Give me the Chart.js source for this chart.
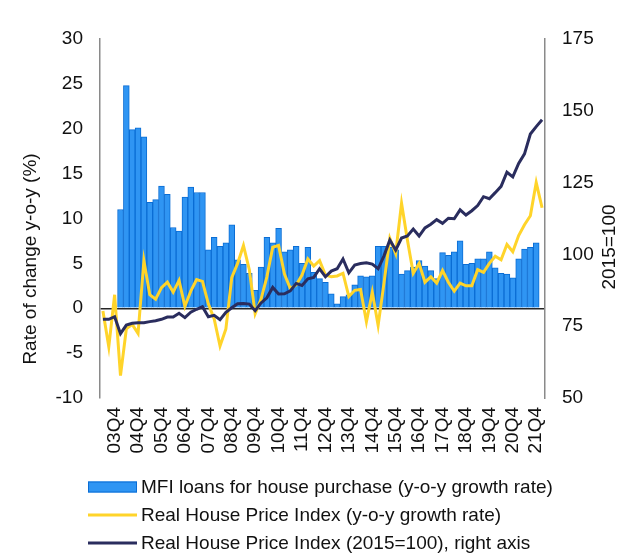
<!DOCTYPE html>
<html>
<head>
<meta charset="utf-8">
<script src="https://cdn.jsdelivr.net/npm/chart.js@4.4.1/dist/chart.umd.min.js"></script>
<style>
  html, body { margin: 0; padding: 0; background: #fff; }
  #wrap { width: 632px; height: 555px; position: relative; }
</style>
</head>
<body>
<div id="wrap"><canvas id="c" width="632" height="555"></canvas></div>
<script>
const categories = [
  '03Q2','03Q3','03Q4','04Q1','04Q2','04Q3','04Q4','05Q1','05Q2','05Q3','05Q4',
  '06Q1','06Q2','06Q3','06Q4','07Q1','07Q2','07Q3','07Q4','08Q1','08Q2','08Q3','08Q4',
  '09Q1','09Q2','09Q3','09Q4','10Q1','10Q2','10Q3','10Q4','11Q1','11Q2','11Q3','11Q4',
  '12Q1','12Q2','12Q3','12Q4','13Q1','13Q2','13Q3','13Q4','14Q1','14Q2','14Q3','14Q4',
  '15Q1','15Q2','15Q3','15Q4','16Q1','16Q2','16Q3','16Q4','17Q1','17Q2','17Q3','17Q4',
  '18Q1','18Q2','18Q3','18Q4','19Q1','19Q2','19Q3','19Q4','20Q1','20Q2','20Q3','20Q4',
  '21Q1','21Q2','21Q3','21Q4','22Q1'
];

const mfiLoans = [
  null, null, null,
  11.0, 24.8, 19.9, 20.1, 19.1, 11.8, 12.1, 13.6, 12.7, 9.0,
  8.6, 12.4, 13.5, 12.9, 12.9, 6.5, 7.9, 6.9, 7.3, 9.3,
  5.4, 4.9, 3.9, 2.0, 4.6, 7.9, 7.3, 8.9, 6.3, 6.5,
  6.9, 5.0, 6.8, 4.0, 3.3, 2.9, 1.6, 0.5, 1.3, 1.5,
  2.6, 3.6, 3.5, 3.6, 6.9, 6.9, 6.8, 6.5, 3.8, 4.2,
  4.6, 5.3, 4.7, 4.2, 3.3, 6.2, 5.9, 6.3, 7.5, 4.9,
  5.0, 5.5, 5.5, 6.3, 4.5, 3.9, 3.8, 3.4, 5.5, 6.6,
  6.8, 7.3,
  null
];

const realHpiGrowth = [
  -0.3, -4.3, 1.5, -7.5, -2.3, -1.8, -2.8, 5.3, 1.5, 1.0,
  2.3, 2.9, 1.8, 3.1, 0.2, 1.9, 3.2, 3.0, 0.5, -1.2,
  -4.2, -2.3, 3.4, 5.0, 7.0, 4.3, -0.6, 1.0, 3.5, 6.8,
  7.0, 3.8, 2.2, 2.6, 3.7, 5.5, 4.7, 5.3, 3.7, 3.5,
  3.6, 3.9, 1.3, 2.0, 2.1, -1.5, 1.8, -1.9, 2.8, 7.8,
  6.1, 11.7, 7.6, 3.9, 5.0, 2.9, 3.5, 2.8, 4.2, 2.9,
  1.9, 2.8, 2.5, 2.5, 4.3, 4.0, 5.0, 5.8, 5.4, 7.1,
  6.3, 8.1, 9.3, 10.3, 14.0, 11.2
];

const realHpiIndex = [
  77.4, 77.4, 78.3, 72.4, 75.4, 76.0, 76.2, 76.2, 76.6, 76.9,
  77.4, 78.2, 78.2, 79.5, 78.0, 79.9, 80.9, 81.8, 78.3, 78.8,
  77.3, 79.8, 81.4, 82.8, 82.9, 82.7, 80.4, 83.1, 84.9, 88.5,
  86.2, 86.3, 87.3, 89.9, 89.2, 91.5, 92.0, 95.0, 92.2, 94.2,
  95.0, 98.4, 93.6, 96.3, 96.8, 97.1, 96.6, 95.0, 99.5, 105.0,
  101.5, 105.7, 106.4, 108.8, 106.4, 109.2, 110.5, 112.1, 110.8, 112.6,
  112.4, 115.5, 113.7, 115.2, 117.0, 120.1, 119.4, 121.5, 123.7, 128.6,
  127.0, 131.7, 135.0, 141.9, 144.5, 146.9
];

const seriesNames = [
  'MFI loans for house purchase (y-o-y growth rate)',
  'Real House Price Index (y-o-y growth rate)',
  'Real House Price Index (2015=100), right axis'
];
const leftTitle = 'Rate of change y-o-y (%)';
const rightTitle = '2015=100';

const FONT = "'Liberation Sans', Arial, sans-serif";
const FS = 19;
const TXT = '#111111';
const BAR_FILL = '#2F95F3';
const BAR_EDGE = '#0B6DD4';
const YELLOW = '#FFD42A';
const NAVY = '#2A2D5E';

const customDecor = {
  id: 'customDecor',
  afterDraw(chart) {
    const ctx = chart.ctx;
    ctx.save();
    ctx.fillStyle = TXT;
    ctx.font = FS + 'px ' + FONT;
    ctx.textBaseline = 'middle';
    ctx.textAlign = 'center';
    ctx.save();
    ctx.translate(31, 259);
    ctx.rotate(-Math.PI / 2);
    ctx.fillText(leftTitle, 0, 0);
    ctx.restore();
    ctx.save();
    ctx.translate(610, 247);
    ctx.rotate(-Math.PI / 2);
    ctx.fillText(rightTitle, 0, 0);
    ctx.restore();
    const ds = chart.data.datasets;
    const rows = [487, 515, 543];
    const x0 = 88, w = 49, tx = 141;
    ds.forEach((d, i) => {
      const y = rows[i];
      if (d.type === 'bar') {
        ctx.fillStyle = d.backgroundColor;
        ctx.fillRect(x0, y - 5.5, w, 11);
        ctx.strokeStyle = d.borderColor;
        ctx.lineWidth = 1;
        ctx.strokeRect(x0 + 0.5, y - 5, w - 1, 10);
      } else {
        ctx.strokeStyle = d.borderColor;
        ctx.lineWidth = 3;
        ctx.beginPath();
        ctx.moveTo(x0, y);
        ctx.lineTo(x0 + w, y);
        ctx.stroke();
      }
      ctx.fillStyle = TXT;
      ctx.textAlign = 'left';
      ctx.fillText(d.label, tx, y + 1);
    });
    ctx.restore();
  }
};

new Chart(document.getElementById('c'), {
  data: {
    labels: categories,
    datasets: [
      {
        type: 'bar',
        label: seriesNames[0],
        data: mfiLoans,
        backgroundColor: BAR_FILL,
        borderColor: BAR_EDGE,
        borderWidth: 1,
        barPercentage: 1.0,
        categoryPercentage: 1.0,
        yAxisID: 'y',
        order: 3
      },
      {
        type: 'line',
        label: seriesNames[1],
        data: realHpiGrowth,
        borderColor: YELLOW,
        backgroundColor: YELLOW,
        borderWidth: 3,
        pointRadius: 0,
        tension: 0,
        fill: false,
        yAxisID: 'y',
        order: 2
      },
      {
        type: 'line',
        label: seriesNames[2],
        data: realHpiIndex,
        borderColor: NAVY,
        backgroundColor: NAVY,
        borderWidth: 3,
        pointRadius: 0,
        tension: 0,
        fill: false,
        yAxisID: 'y2',
        order: 1
      }
    ]
  },
  options: {
    responsive: false,
    animation: false,
    devicePixelRatio: 1,
    layout: { padding: { top: 39, left: 0, right: 0, bottom: 0 } },
    plugins: {
      legend: { display: false },
      tooltip: { enabled: false }
    },
    scales: {
      x: {
        type: 'category',
        offset: true,
        grid: { display: false, drawTicks: false },
        border: { display: false },
        ticks: {
          autoSkip: false,
          minRotation: 90,
          maxRotation: 90,
          padding: 9,
          color: TXT,
          font: { family: FONT, size: FS },
          callback: function(val, idx) {
            const lab = categories[idx];
            return lab.endsWith('Q4') ? lab : '';
          }
        },
        afterFit(scale) { scale.height = 157; }
      },
      y: {
        position: 'left',
        min: -10,
        max: 30,
        ticks: {
          stepSize: 5,
          padding: 17,
          color: TXT,
          font: { family: FONT, size: FS }
        },
        grid: {
          drawTicks: false,
          lineWidth: 1.5,
          color: (c) => (c.tick && c.tick.value === 0 ? '#262626' : 'rgba(0,0,0,0)')
        },
        border: { display: true, color: '#8A8A8A', width: 1.5 },
        afterFit(scale) { scale.width = 100; }
      },
      y2: {
        position: 'right',
        min: 50,
        max: 175,
        ticks: {
          stepSize: 25,
          padding: 17,
          color: TXT,
          font: { family: FONT, size: FS }
        },
        grid: { display: false, drawTicks: false },
        border: { display: true, color: '#8A8A8A', width: 1.5 },
        afterFit(scale) { scale.width = 87; }
      }
    }
  },
  plugins: [customDecor]
});
</script>
</body>
</html>
